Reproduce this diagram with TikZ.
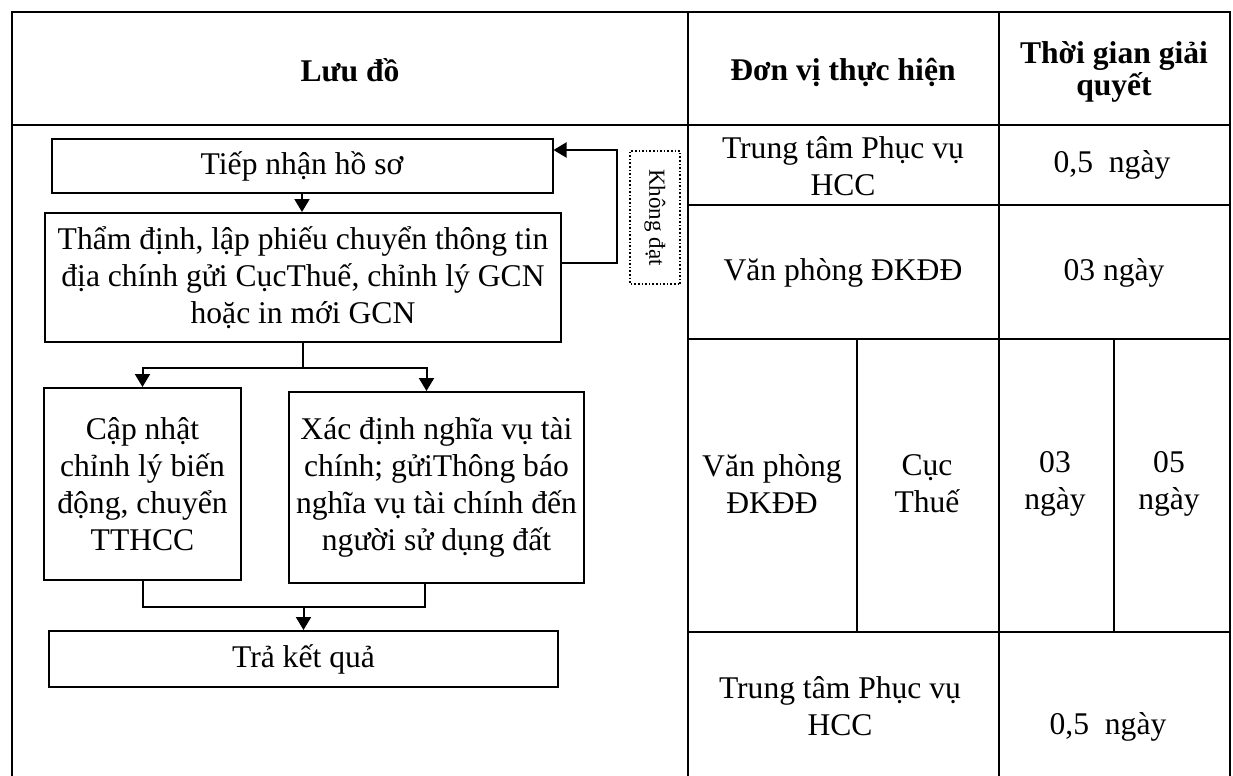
\documentclass[tikz,border=0pt]{standalone}
\usepackage{fontspec}
\setmainfont{Liberation Serif}
\usetikzlibrary{arrows.meta,positioning}
\newcommand{\cellfont}{\fontsize{15.8}{18.5}\selectfont}
\tikzset{
  stepbox/.style={draw, line width=1pt, align=center, inner sep=0pt,
                  font=\cellfont},
  dotbox/.style={draw, densely dotted, line width=0.8pt, inner sep=0pt,
                 font=\fontsize{11.5}{13}\selectfont},
  cell/.style={align=center, font=\cellfont},
  head/.style={align=center, font=\cellfont\bfseries},
  rule/.style={line width=1pt},
  link/.style={line width=1pt},
  flow/.style={-{Triangle[length=6.5pt,width=7.5pt]}, line width=1pt},
}

\begin{document}
\begin{tikzpicture}[x=0.5pt, y=-0.5pt]
\useasboundingbox (0,0) rectangle (1233,776);

% ---- table frame ---------------------------------------------------
\draw[rule] (12,776) -- (12,12) -- (1230,12) -- (1230,776);
\draw[rule] (12,125) -- (1230,125);
\draw[rule] (688,12) -- (688,776);
\draw[rule] (999,12) -- (999,776);
\foreach \y in {205,339,632} \draw[rule] (688,\y) -- (1230,\y);
\foreach \x in {857,1114} \draw[rule] (\x,339) -- (\x,632);

% ---- header --------------------------------------------------------
\node[head] (hflow) at (350,70) {Lưu đồ};
\node[head] (hunit) at (843,72) {Đơn vị thực hiện};
\node[head, font=\fontsize{15.8}{16}\selectfont\bfseries] (htime) at (1114,72)
     {Thời gian giải\\quyết};

% ---- flowchart -----------------------------------------------------
\node[stepbox, minimum width=250.5pt, minimum height=27pt] (tiep) at (302,166)
     {Tiếp nhận hồ sơ};
\node[stepbox, minimum width=258pt, minimum height=64.5pt] (thamdinh) at (303,277.5)
     {Thẩm định, lập phiếu chuyển thông tin\\địa chính gửi CụcThuế, chỉnh lý GCN\\hoặc in mới GCN};
\node[stepbox, minimum width=98.5pt, minimum height=96pt] (capnhat) at (142.5,484)
     {Cập nhật\\chỉnh lý biến\\động, chuyển\\TTHCC};
\node[stepbox, minimum width=147.5pt, minimum height=95.5pt] (xacdinh) at (436.5,487.5)
     {Xác định nghĩa vụ tài\\chính; gửiThông báo\\nghĩa vụ tài chính đến\\người sử dụng đất};
\node[stepbox, minimum width=254.5pt, minimum height=28pt] (trakq) at (303.5,659)
     {Trả kết quả};
\node[dotbox, rotate=-90, minimum width=66.5pt, minimum height=25pt] (khongdat)
     at (655,217.5) {Không đạt};

\coordinate (fork) at ([yshift=-12.5pt]thamdinh.south);
\coordinate (join) at ([yshift=11.5pt]trakq.north);

\draw[flow] (tiep.south) -- (tiep.south |- thamdinh.north);
\draw[flow] (thamdinh.south) -- (fork) -| (capnhat.north);
\draw[flow] (fork) -| ([xshift=-5pt]xacdinh.north);
\draw[link] (capnhat.south) |- (join) -| ([xshift=-6pt]xacdinh.south);
\draw[flow] (join) -- (trakq.north);
\draw[flow] ([yshift=7.25pt]thamdinh.east) -- ++(55,0) |- ([yshift=8pt]tiep.east);

% ---- units and times -----------------------------------------------
\node[cell] (unit1) at (843,166) {Trung tâm Phục vụ\\HCC};
\node[cell] (time1) at (1112,165) {0,5~~ngày};
\node[cell] (unit2) at (843,273) {Văn phòng ĐKĐĐ};
\node[cell] (time2) at (1114,273) {03 ngày};
\node[cell] (unit3a) at (772,484) {Văn phòng\\ĐKĐĐ};
\node[cell] (unit3b) at (927,484) {Cục\\Thuế};
\node[cell] (time3a) at (1055,484) {03\\ngày};
\node[cell] (time3b) at (1169,484) {05\\ngày};
\node[cell] (unit4) at (840,706) {Trung tâm Phục vụ\\HCC};
\node[cell] (time4) at (1108,727) {0,5~~ngày};
\end{tikzpicture}
\end{document}
